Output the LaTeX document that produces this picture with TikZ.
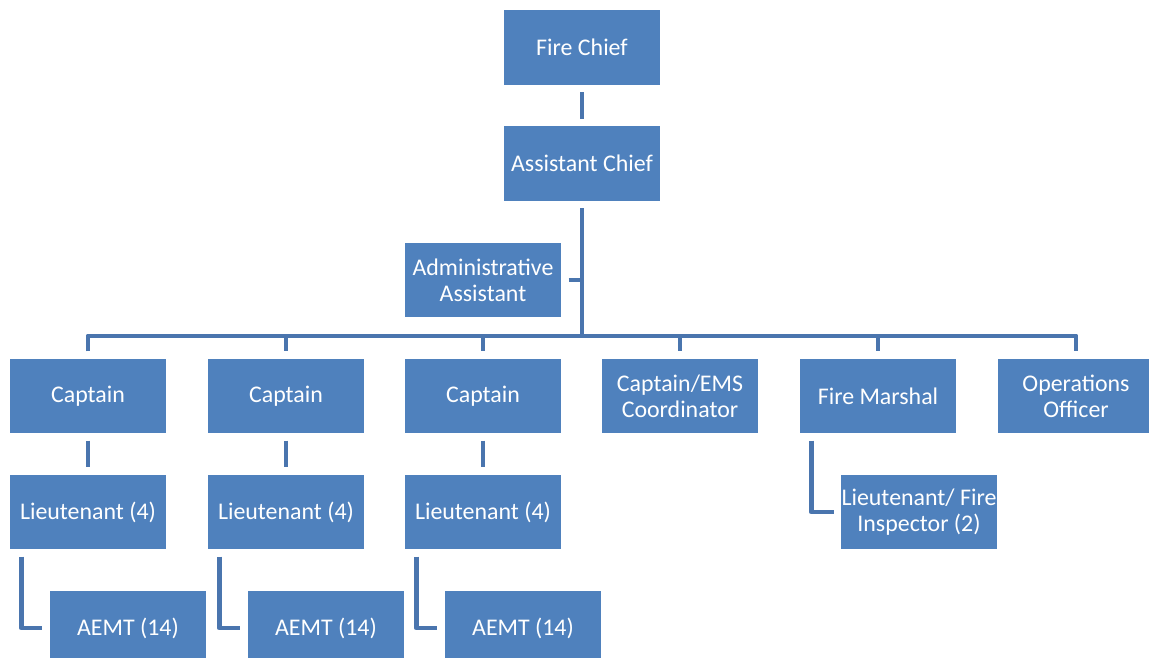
\documentclass[tikz,border=0pt]{standalone}
\usepackage{fontspec}
\setmainfont{Carlito}
\usetikzlibrary{calc}
\definecolor{boxblue}{HTML}{4F81BD}
\definecolor{lineblue}{HTML}{4A75AE}
\tikzset{
  post/.style={rectangle, fill=boxblue, draw=white, line width=0.6pt, text=white,
    minimum width=3.16cm, minimum height=1.52cm, align=center, inner xsep=0.5pt,
    inner ysep=2pt, font=\fontsize{13.6}{15}\selectfont},
  link/.style={draw=lineblue, line width=2.8pt, line join=round},
}
\begin{document}
\begin{tikzpicture}[x=0.02cm, y=-0.02cm]
\useasboundingbox (0,0) rectangle (1149,658);
% top of the chart
\node[post] (chief) at (582,47.5) {Fire Chief};
\node[post] (asst) at (582,163.5) {Assistant Chief};
\node[post] (admin) at (483,280) {Administrative\\Assistant};
\coordinate (bus) at (582,336);
% second row
\node[post] (cap1) at (88,396) {Captain};
\node[post] (cap2) at (286,396) {Captain};
\node[post] (cap3) at (483,396) {Captain};
\node[post] (ems) at (680,396) {Captain/EMS\\Coordinator};
\node[post] (marshal) at (878,396) {Fire Marshal};
\node[post] (ops) at (1076,396) {Operations\\Officer};
% lower rows
\foreach \i/\x in {1/88, 2/286, 3/483} {
  \node[post] (lt\i) at (\x,512) {Lieutenant (4)};
  \node[post] (aemt\i) at (\x+40,628) {AEMT (14)};
}
\node[post] (insp) at (919,512) {Lieutenant/ Fire\\Inspector (2)};
% connectors
\draw[link, shorten <=0.12cm, shorten >=0.12cm] (chief) -- (asst);
\draw[link, shorten <=0.12cm] (asst.south) -- (bus);
\draw[link, shorten <=0.12cm] (admin.east) -- (admin.east -| bus);
\draw[link, shorten <=0.12cm, shorten >=0.12cm] (cap1.north) -- (cap1.north |- bus) -- (ops.north |- bus) -- (ops.north);
\foreach \n in {cap2, cap3, ems, marshal}
  \draw[link, shorten >=0.12cm] (\n.north |- bus) -- (\n.north);
\foreach \i in {1, 2, 3} {
  \draw[link, shorten <=0.12cm, shorten >=0.12cm] (cap\i) -- (lt\i);
  \draw[link, shorten <=0.12cm, shorten >=0.12cm] ($(lt\i.south west)+(13,0)$) |- (aemt\i.west);
}
\draw[link, shorten <=0.12cm, shorten >=0.12cm] ($(marshal.south west)+(13,0)$) |- (insp.west);
\end{tikzpicture}
\end{document}
